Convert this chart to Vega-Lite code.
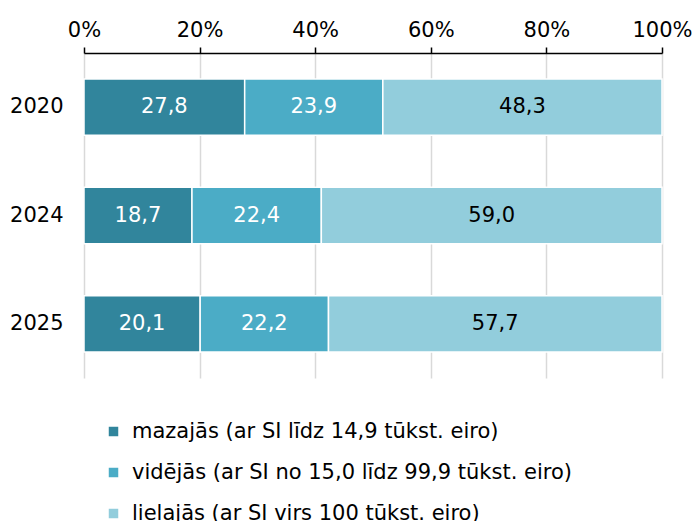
{
  "$schema": "https://vega.github.io/schema/vega-lite/v6.json",
  "autosize": "none",
  "width": 578,
  "height": 325,
  "padding": {"left": 84, "top": 53, "right": 34, "bottom": 143},
  "background": "white",
  "config": {
    "font": "DejaVu Sans",
    "view": {"stroke": null},
    "locale": {"number": {"decimal": ",", "thousands": " ", "grouping": [3], "currency": ["", " €"], "percent": "%"}}
  },
  "data": {
    "values": [
      {"year": "2020", "cat": "mazajās (ar SI līdz 14,9 tūkst. eiro)", "k": 1, "v": 27.8},
      {"year": "2020", "cat": "vidējās (ar SI no 15,0 līdz 99,9 tūkst. eiro)", "k": 2, "v": 23.9},
      {"year": "2020", "cat": "lielajās (ar SI virs 100 tūkst. eiro)", "k": 3, "v": 48.3},
      {"year": "2024", "cat": "mazajās (ar SI līdz 14,9 tūkst. eiro)", "k": 1, "v": 18.7},
      {"year": "2024", "cat": "vidējās (ar SI no 15,0 līdz 99,9 tūkst. eiro)", "k": 2, "v": 22.4},
      {"year": "2024", "cat": "lielajās (ar SI virs 100 tūkst. eiro)", "k": 3, "v": 59.0},
      {"year": "2025", "cat": "mazajās (ar SI līdz 14,9 tūkst. eiro)", "k": 1, "v": 20.1},
      {"year": "2025", "cat": "vidējās (ar SI no 15,0 līdz 99,9 tūkst. eiro)", "k": 2, "v": 22.2},
      {"year": "2025", "cat": "lielajās (ar SI virs 100 tūkst. eiro)", "k": 3, "v": 57.7}
    ]
  },
  "encoding": {
    "y": {
      "field": "year", "type": "nominal", "title": null,
      "scale": {"paddingInner": 0.48, "paddingOuter": 0.24},
      "axis": {"domain": false, "ticks": false, "tickSize": 0, "labelPadding": 21, "labelFontSize": 21, "labelColor": "#000000", "labelFont": "DejaVu Sans"}
    }
  },
  "layer": [
    {
      "mark": {"type": "bar", "stroke": "white", "strokeWidth": 1.5},
      "encoding": {
        "x": {
          "field": "v", "type": "quantitative", "stack": "normalize", "title": null,
          "scale": {"domain": [0, 1], "nice": false},
          "axis": {
            "orient": "top", "format": ".0%", "values": [0, 0.2, 0.4, 0.6, 0.8, 1],
            "grid": true, "gridColor": "#d9d9d9", "gridWidth": 1.5,
            "domainColor": "#000000", "domainWidth": 1.5,
            "tickColor": "#000000", "tickWidth": 1.5, "tickSize": 6,
            "labelPadding": 7, "labelFontSize": 21, "labelColor": "#000000", "labelFont": "DejaVu Sans",
            "labelFlush": false
          }
        },
        "color": {
          "field": "cat", "type": "nominal", "title": null,
          "sort": ["mazajās (ar SI līdz 14,9 tūkst. eiro)", "vidējās (ar SI no 15,0 līdz 99,9 tūkst. eiro)", "lielajās (ar SI virs 100 tūkst. eiro)"],
          "scale": {
            "domain": ["mazajās (ar SI līdz 14,9 tūkst. eiro)", "vidējās (ar SI no 15,0 līdz 99,9 tūkst. eiro)", "lielajās (ar SI virs 100 tūkst. eiro)"],
            "range": ["#31859c", "#4bacc6", "#92cddc"]
          },
          "legend": {
            "orient": "none", "legendX": 19, "legendY": 368, "direction": "vertical",
            "symbolType": "square", "symbolSize": 90, "symbolStrokeWidth": 0,
            "labelFontSize": 21, "labelColor": "#000000", "labelFont": "DejaVu Sans",
            "labelOffset": 8, "rowPadding": 19, "padding": 0, "labelLimit": 600
          }
        },
        "order": {"field": "k", "type": "quantitative"}
      }
    },
    {
      "mark": {"type": "text", "fontSize": 21, "font": "DejaVu Sans"},
      "encoding": {
        "x": {"field": "v", "type": "quantitative", "stack": "normalize", "bandPosition": 0.5},
        "detail": {"field": "cat", "type": "nominal"},
        "order": {"field": "k", "type": "quantitative"},
        "text": {"field": "v", "type": "quantitative", "format": ".1f"},
        "color": {"condition": {"test": "datum.k === 3", "value": "#000000"}, "value": "#ffffff"}
      }
    }
  ]
}
